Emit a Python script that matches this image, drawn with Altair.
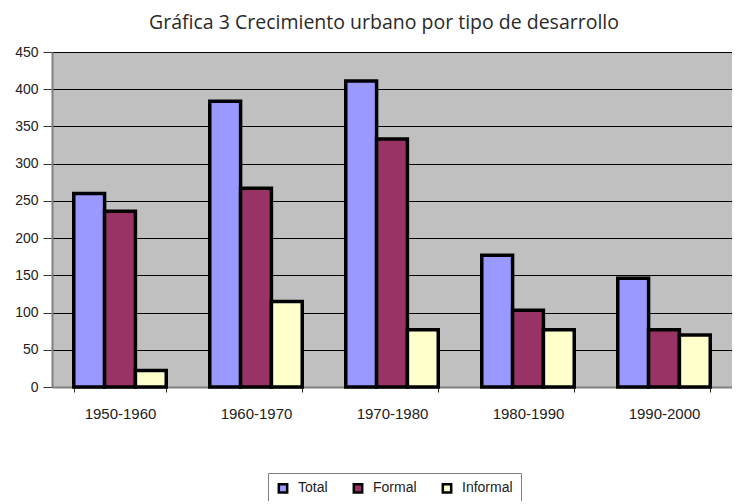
import altair as alt
import pandas as pd

periods = ["1950-1960", "1960-1970", "1970-1980", "1980-1990", "1990-2000"]
series = ["Total", "Formal", "Informal"]
total = [260, 384, 411, 177, 146]
formal = [236, 267, 333, 103, 77]
informal = [22, 115, 77, 77, 70]
colors = ["#9999FF", "#993366", "#FFFFCC"]

rows = []
for i, p in enumerate(periods):
    for s, vals in zip(series, [total, formal, informal]):
        rows.append({"Periodo": p, "Serie": s, "Valor": vals[i]})
df = pd.DataFrame(rows)

chart = alt.Chart(df).mark_bar(stroke="black", strokeWidth=3.5).encode(
    x=alt.X("Periodo:N", sort=periods, title=None,
            scale=alt.Scale(paddingInner=0.32, paddingOuter=0.16),
            axis=alt.Axis(labelAngle=0, labelFont="Arial", labelFontSize=15,
                          labelColor="#222", labelPadding=14, tickBand="extent",
                          tickColor="#333", tickSize=5, domainColor="#808080",
                          domainWidth=2)),
    xOffset=alt.XOffset("Serie:N", sort=series, scale=alt.Scale(paddingInner=0, paddingOuter=0)),
    y=alt.Y("Valor:Q", title=None,
            scale=alt.Scale(domain=[0, 450]),
            axis=alt.Axis(values=list(range(0, 451, 50)), labelFont="Arial",
                          labelFontSize=14, labelColor="#222", labelPadding=5,
                          tickColor="#333", tickSize=9, domainColor="#808080",
                          domainWidth=2, grid=True, gridColor="#000000",
                          gridWidth=1)),
    color=alt.Color("Serie:N", sort=series,
                    scale=alt.Scale(domain=series, range=colors),
                    legend=alt.Legend(title=None, orient="none", direction="horizontal",
                                      legendX=216, legendY=421, symbolType="square",
                                      symbolStrokeColor="black", symbolStrokeWidth=2.5,
                                      symbolSize=70, labelFont="Arial", labelFontSize=14,
                                      labelColor="#222", labelOffset=8, columnPadding=20,
                                      strokeColor="#808080", fillColor="white",
                                      padding=8)),
).properties(
    width=680,
    height=335,
    background="white",
    title=alt.TitleParams("Gráfica 3 Crecimiento urbano por tipo de desarrollo",
                          font="Open Sans", fontSize=19.5, fontWeight="normal",
                          color="#2a2a2a", anchor="middle", dx=-8, offset=12),
    autosize=alt.AutoSizeParams(type="none"),
    padding={"left": 44, "top": 44, "right": 0, "bottom": 114},
).configure_view(fill="#C0C0C0", stroke=None)

chart.save("out.html", embed_options={"renderer": "svg", "actions": False})
